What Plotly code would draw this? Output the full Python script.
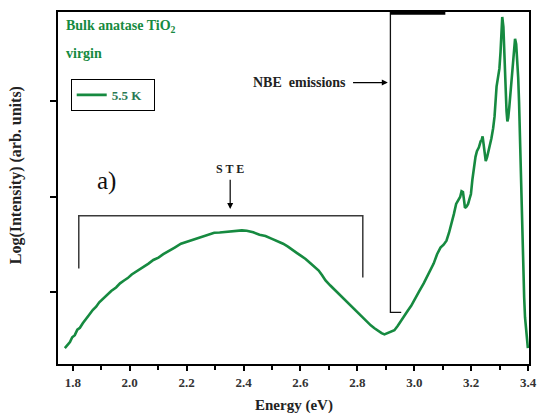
import plotly.graph_objects as go

# Energy (eV) and log intensity (arb. units; y ticks at 1, 2, 3)
energy = [1.772, 1.780, 1.790, 1.798, 1.807, 1.816, 1.825, 1.835, 1.846, 1.859, 1.870, 1.882, 1.893,
          1.905, 1.921, 1.935, 1.952, 1.966, 1.980, 1.993, 2.007, 2.019, 2.031, 2.048, 2.066, 2.083,
          2.101, 2.118, 2.135, 2.158, 2.180, 2.200, 2.221, 2.238, 2.256, 2.276, 2.297, 2.316, 2.335,
          2.356, 2.377, 2.394, 2.411, 2.434, 2.456, 2.477, 2.498, 2.518, 2.539, 2.556, 2.574, 2.588,
          2.601, 2.618, 2.636, 2.650, 2.664, 2.676, 2.688, 2.705, 2.722, 2.740, 2.757, 2.780, 2.802,
          2.818, 2.833, 2.847, 2.860, 2.872, 2.885, 2.895, 2.905, 2.918, 2.930, 2.942, 2.954, 2.966,
          2.978, 2.989, 2.999, 3.016, 3.033, 3.050, 3.068, 3.080, 3.092, 3.103, 3.113, 3.122, 3.130,
          3.139, 3.147, 3.154, 3.161, 3.166, 3.171, 3.175, 3.178, 3.184, 3.189, 3.194, 3.199, 3.204,
          3.209, 3.215, 3.220, 3.227, 3.233, 3.237, 3.240, 3.246, 3.251, 3.256, 3.261, 3.266, 3.271,
          3.277, 3.282, 3.289, 3.294, 3.299, 3.303, 3.306, 3.309, 3.313, 3.316, 3.320, 3.324, 3.327,
          3.330, 3.334, 3.339, 3.344, 3.348, 3.351, 3.354, 3.358, 3.361, 3.365, 3.368, 3.372, 3.376,
          3.379, 3.382, 3.386, 3.389, 3.393, 3.396, 3.399]
log_intensity = [0.417, 0.450, 0.479, 0.530, 0.552, 0.610, 0.630, 0.677, 0.715, 0.771, 0.815, 0.850, 0.896,
                 0.930, 0.979, 1.015, 1.052, 1.095, 1.125, 1.150, 1.188, 1.210, 1.240, 1.268, 1.302, 1.340,
                 1.365, 1.400, 1.427, 1.470, 1.510, 1.530, 1.552, 1.568, 1.583, 1.610, 1.625, 1.628, 1.635,
                 1.640, 1.646, 1.650, 1.646, 1.630, 1.604, 1.590, 1.563, 1.540, 1.510, 1.480, 1.438, 1.412,
                 1.385, 1.350, 1.302, 1.262, 1.229, 1.180, 1.125, 1.072, 1.021, 0.965, 0.917, 0.850, 0.781,
                 0.735, 0.688, 0.655, 0.625, 0.598, 0.573, 0.560, 0.573, 0.585, 0.604, 0.650, 0.708, 0.760,
                 0.813, 0.860, 0.917, 1.005, 1.094, 1.200, 1.302, 1.400, 1.469, 1.500, 1.542, 1.625, 1.708,
                 1.820, 1.927, 1.960, 2.000, 2.060, 2.052, 1.960, 1.885, 1.900, 1.927, 1.980, 2.031, 2.180,
                 2.323, 2.420, 2.479, 2.520, 2.583, 2.600, 2.635, 2.480, 2.375, 2.420, 2.479, 2.560, 2.615,
                 2.720, 2.844, 3.156, 3.250, 3.344, 3.520, 3.729, 3.885, 3.781, 3.552, 3.104, 2.900, 2.792,
                 2.830, 2.948, 3.150, 3.344, 3.480, 3.573, 3.656, 3.600, 3.469, 3.250, 3.000, 2.479, 2.100,
                 1.646, 1.177, 0.950, 0.740, 0.620, 0.500, 0.417]

x_ticks = [1.8, 2.0, 2.2, 2.4, 2.6, 2.8, 3.0, 3.2, 3.4]
y_ticks = [1, 2, 3]

GREEN = "#168a40"
SERIF = "Liberation Serif"
DARK = "#3a3a3a"

fig = go.Figure()
fig.add_trace(go.Scatter(x=energy, y=log_intensity, mode="lines", name="<b>5.5 K</b>  ",
                         line=dict(color=GREEN, width=2.6)))

# STE bracket
ste_y, ste_x0, ste_x1 = 1.802, 1.821, 2.819
fig.add_shape(type="path", path=f"M {ste_x0} 1.25 L {ste_x0} {ste_y} L {ste_x1} {ste_y} L {ste_x1} 1.156",
              line=dict(color=DARK, width=1.5))
# NBE bracket
nbe_x = 2.916
fig.add_shape(type="path", path=f"M {nbe_x} 3.94 L {nbe_x} 0.79 L 2.954 0.79",
              line=dict(color="#111111", width=1.3))
fig.add_shape(type="line", x0=nbe_x, x1=3.109, y0=3.925, y1=3.925, line=dict(color="black", width=3))

# STE label with arrow pointing down
fig.add_annotation(x=2.353, y=1.875, ax=2.353, ay=2.29, xref="x", yref="y", axref="x", ayref="y",
                   text="<b>S T E</b>", showarrow=True, arrowhead=2, arrowsize=1, arrowwidth=1.2,
                   arrowcolor="black", startstandoff=2,
                   font=dict(family=SERIF, size=12, color="#222"))
# NBE label with arrow pointing right
fig.add_annotation(x=2.907, y=3.198, ax=2.595, ay=3.198, xref="x", yref="y", axref="x", ayref="y",
                   text="<b>NBE  emissions</b>", showarrow=True, arrowhead=2, arrowsize=1, arrowwidth=1.2,
                   arrowcolor="black", startstandoff=6,
                   font=dict(family=SERIF, size=14, color="#222"))
fig.add_annotation(x=1.92, y=2.17, text="a)", showarrow=False,
                   font=dict(family=SERIF, size=25, color="#111"))
fig.add_annotation(x=0.012, y=0.958, xref="paper", yref="paper", xanchor="left", yanchor="middle",
                   showarrow=False, text="<b>Bulk anatase TiO<sub>2</sub></b>",
                   font=dict(family=SERIF, size=14, color=GREEN))
fig.add_annotation(x=0.012, y=0.881, xref="paper", yref="paper", xanchor="left", yanchor="middle",
                   showarrow=False, text="<b>virgin</b>", font=dict(family=SERIF, size=14, color=GREEN))
fig.add_annotation(x=-0.09, y=0.535, xref="paper", yref="paper", xanchor="center", yanchor="middle",
                   textangle=-90, showarrow=False,
                   text="<b>Log(Intensity) (arb. units)</b>", font=dict(family=SERIF, size=16, color="#222"))
fig.add_annotation(x=0.5, y=-0.119, xref="paper", yref="paper", xanchor="center", yanchor="middle",
                   showarrow=False, text="<b>Energy (eV)</b>", font=dict(family=SERIF, size=15, color="#222"))

fig.update_layout(
    width=547, height=416, margin=dict(l=58, r=10, t=10, b=52),
    paper_bgcolor="white", plot_bgcolor="white", showlegend=True,
    legend=dict(x=0.027, y=0.81, xanchor="left", yanchor="top", bordercolor="black", borderwidth=1,
                bgcolor="white", font=dict(family=SERIF, size=13, color="#2a7a55"),
                itemwidth=30, tracegroupgap=0),
    xaxis=dict(range=[1.748, 3.403], tickvals=x_ticks, ticktext=[f"<b>{v:.1f}</b>" for v in x_ticks],
               ticks="outside", ticklen=5, tickwidth=2, tickcolor="black",
               minor=dict(dtick=0.1, ticks="outside", ticklen=4, tickwidth=2, tickcolor="black"),
               showline=True, linewidth=2, linecolor="black", mirror=True, showgrid=False, zeroline=False,
               tickfont=dict(family=SERIF, size=13, color="#333")),
    yaxis=dict(range=[0.25, 3.9375], tickvals=y_ticks, showticklabels=False,
               ticks="outside", ticklen=6, tickwidth=2, tickcolor="black",
               showline=True, linewidth=2, linecolor="black", mirror=True, showgrid=False, zeroline=False),
)

fig.write_html("out.html")
